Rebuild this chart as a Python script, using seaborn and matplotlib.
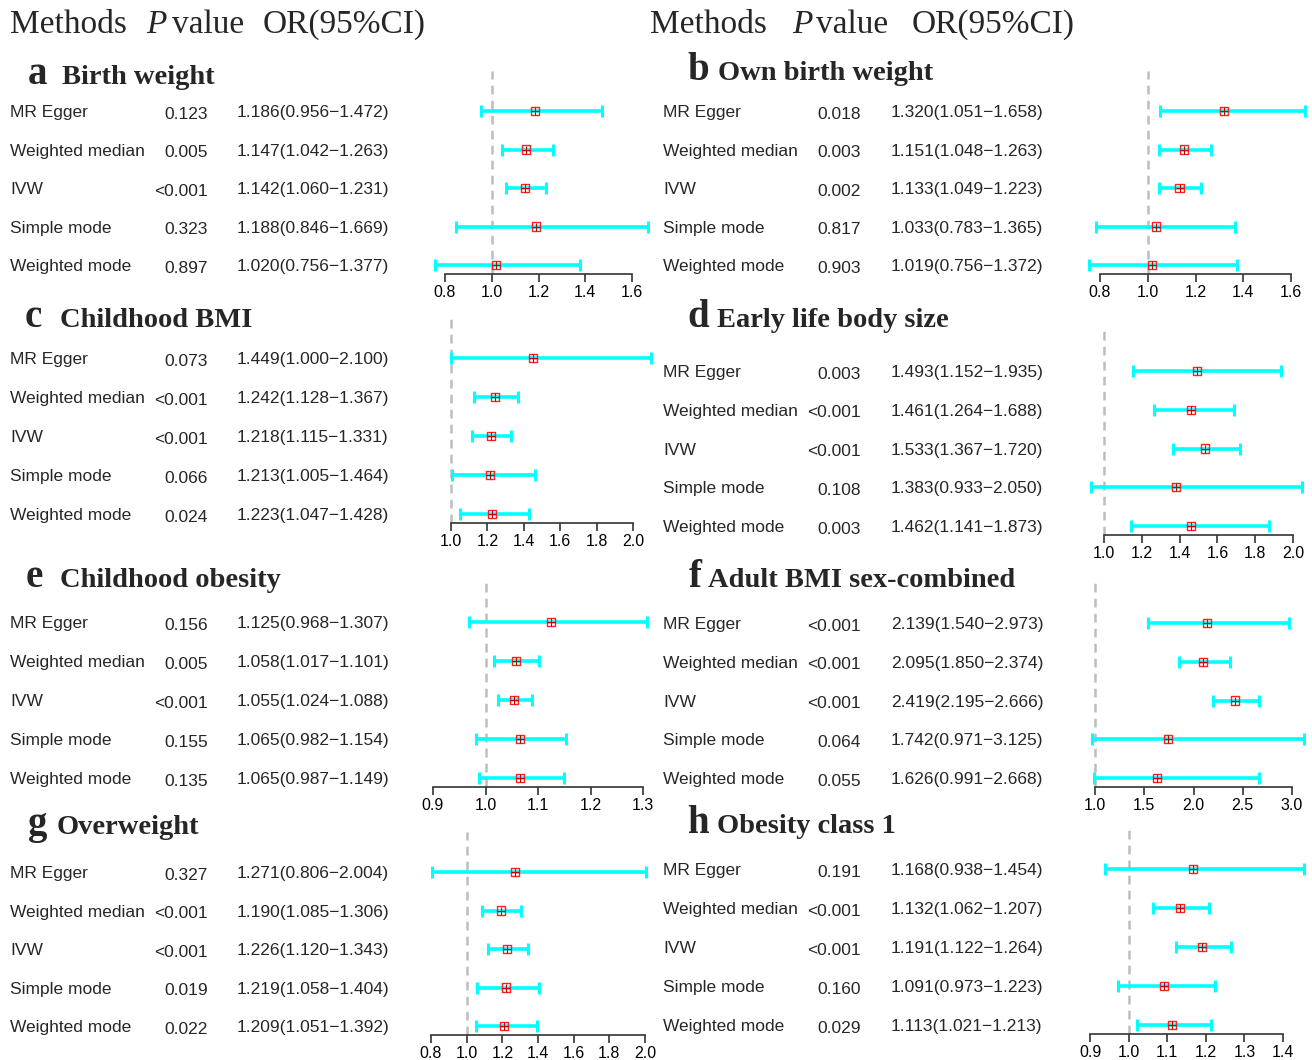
import matplotlib
matplotlib.use("Agg")
import matplotlib.pyplot as plt
import matplotlib.transforms as mtransforms
from matplotlib.ticker import FormatStrFormatter
import numpy as np
import pandas as pd
import seaborn as sns

# ---- data ----
methods = ["MR Egger", "Weighted median", "IVW", "Simple mode", "Weighted mode"]

panel_letters = ["a", "b", "c", "d", "e", "f", "g", "h"]
panel_titles = ["Birth weight", "Own birth weight", "Childhood BMI",
                "Early life body size", "Childhood obesity",
                "Adult BMI sex-combined", "Overweight", "Obesity class 1"]

p_values = [
    ["0.123", "0.005", "<0.001", "0.323", "0.897"],
    ["0.018", "0.003", "0.002", "0.817", "0.903"],
    ["0.073", "<0.001", "<0.001", "0.066", "0.024"],
    ["0.003", "<0.001", "<0.001", "0.108", "0.003"],
    ["0.156", "0.005", "<0.001", "0.155", "0.135"],
    ["<0.001", "<0.001", "<0.001", "0.064", "0.055"],
    ["0.327", "<0.001", "<0.001", "0.019", "0.022"],
    ["0.191", "<0.001", "<0.001", "0.160", "0.029"],
]
or_values = [
    [1.186, 1.147, 1.142, 1.188, 1.020],
    [1.320, 1.151, 1.133, 1.033, 1.019],
    [1.449, 1.242, 1.218, 1.213, 1.223],
    [1.493, 1.461, 1.533, 1.383, 1.462],
    [1.125, 1.058, 1.055, 1.065, 1.065],
    [2.139, 2.095, 2.419, 1.742, 1.626],
    [1.271, 1.190, 1.226, 1.219, 1.209],
    [1.168, 1.132, 1.191, 1.091, 1.113],
]
ci_low = [
    [0.956, 1.042, 1.060, 0.846, 0.756],
    [1.051, 1.048, 1.049, 0.783, 0.756],
    [1.000, 1.128, 1.115, 1.005, 1.047],
    [1.152, 1.264, 1.367, 0.933, 1.141],
    [0.968, 1.017, 1.024, 0.982, 0.987],
    [1.540, 1.850, 2.195, 0.971, 0.991],
    [0.806, 1.085, 1.120, 1.058, 1.051],
    [0.938, 1.062, 1.122, 0.973, 1.021],
]
ci_high = [
    [1.472, 1.263, 1.231, 1.669, 1.377],
    [1.658, 1.263, 1.223, 1.365, 1.372],
    [2.100, 1.367, 1.331, 1.464, 1.428],
    [1.935, 1.688, 1.720, 2.050, 1.873],
    [1.307, 1.101, 1.088, 1.154, 1.149],
    [2.973, 2.374, 2.666, 3.125, 2.668],
    [2.004, 1.306, 1.343, 1.404, 1.392],
    [1.454, 1.207, 1.264, 1.223, 1.213],
]
x_ticks = [
    [0.8, 1.0, 1.2, 1.4, 1.6],
    [0.8, 1.0, 1.2, 1.4, 1.6],
    [1.0, 1.2, 1.4, 1.6, 1.8, 2.0],
    [1.0, 1.2, 1.4, 1.6, 1.8, 2.0],
    [0.9, 1.0, 1.1, 1.2, 1.3],
    [1.0, 1.5, 2.0, 2.5, 3.0],
    [0.8, 1.0, 1.2, 1.4, 1.6, 1.8, 2.0],
    [0.9, 1.0, 1.1, 1.2, 1.3, 1.4],
]

# ---- layout (pixels) ----
W, H = 1312, 1060
axis_px = [(445, 632), (1100, 1291), (451, 633), (1104, 1293),
           (433, 643), (1095, 1292), (431, 645), (1090, 1283)]
row_px = [(111, 265), (111, 265), (358, 514), (371, 526),
          (622, 778), (623, 778), (872, 1026), (869, 1025)]
title_px = [(28, 62, 84), (687, 718, 80), (25, 60, 327), (687, 717, 327),
            (26, 60, 587), (689, 708, 587), (28, 57, 834), (687, 717, 833)]
col_x = [(10, 208, 237), (663, 861, 891)]  # method left, p right, OR left

sns.set_style("ticks")
plt.rcParams["font.family"] = ["Liberation Sans", "DejaVu Sans"]
serif = ["Liberation Serif", "DejaVu Serif"]

fig = plt.figure(figsize=(W / 100, H / 100), dpi=100)


def fx(px):
    return px / W


def fy(py):
    return 1 - py / H


# header
for off, p_x, v_x, or_x in [(10, 146, 172, 263), (650, 792, 816, 912)]:
    fig.text(fx(off), fy(25), "Methods", family=serif, fontsize=24, va="center")
    fig.text(fx(p_x), fy(25), "P", family=serif, fontsize=24, style="italic", va="center")
    fig.text(fx(v_x), fy(25), "value", family=serif, fontsize=24, va="center")
    fig.text(fx(or_x), fy(25), "OR(95%CI)", family=serif, fontsize=24, va="center")

for i in range(8):
    col = i % 2
    x0, x1 = axis_px[i]
    r0, r1 = row_px[i]
    step = (r1 - r0) / 4
    top, bot = r0 - 40, r1 + 9
    ax = fig.add_axes([fx(x0), fy(bot), (x1 - x0) / W, (bot - top) / H])

    df = pd.DataFrame({"method": methods, "row": np.arange(5),
                       "or": or_values[i], "lo": ci_low[i], "hi": ci_high[i],
                       "p": p_values[i]})

    ax.axvline(1.0, color="#BDBDBD", ls=(0, (3.5, 2.5)), lw=1.8, zorder=1,
               clip_on=False)
    ax.errorbar(df["or"], df["row"], xerr=[df["or"] - df["lo"], df["hi"] - df["or"]],
                fmt="none", ecolor="#00FFFF", elinewidth=2.6, capsize=4,
                capthick=2.2, clip_on=False, zorder=2)
    sns.scatterplot(data=df, x="or", y="row", marker="s", s=34, color="red",
                    facecolor="none", edgecolor="#FF2020", linewidth=1.0,
                    clip_on=False, zorder=3, ax=ax)
    ax.plot(df["or"], df["row"], ls="none", marker="+", ms=6, mew=0.8,
            color="#C00000", clip_on=False, zorder=4)

    ax.set_xlim(x_ticks[i][0], x_ticks[i][-1])
    ax.set_ylim(4 + 9 / step, -40 / step)
    ax.set_xticks(x_ticks[i])
    ax.xaxis.set_major_formatter(FormatStrFormatter("%.1f"))
    ax.set_yticks([])
    ax.set_xlabel("")
    ax.set_ylabel("")
    sns.despine(ax=ax, left=True)
    ax.spines["bottom"].set_color("#333333")
    ax.spines["bottom"].set_linewidth(1.2)
    ax.tick_params(axis="x", length=6, width=1.2, color="#333333",
                   labelsize=11.5, pad=2, labelcolor="black")
    ax.patch.set_alpha(0)

    # table text
    tr = mtransforms.blended_transform_factory(fig.transFigure, ax.transData)
    mx, px_, ox = col_x[col]
    for r in range(5):
        ax.text(fx(mx), r + 0.04, df["method"][r], transform=tr, fontsize=12.5,
                va="center", ha="left", clip_on=False)
        ax.text(fx(px_), r + 0.08, df["p"][r], transform=tr, fontsize=12.5,
                va="center", ha="right", clip_on=False)
        label = f"{df['or'][r]:.3f}({df['lo'][r]:.3f}\u2212{df['hi'][r]:.3f})"
        ax.text(fx(ox), r + 0.04, label, transform=tr, fontsize=12.5,
                va="center", ha="left", clip_on=False)

    # panel title
    lx, tx, by = title_px[i]
    fig.text(fx(lx), fy(by), panel_letters[i], family=serif, fontsize=28,
             fontweight="bold", va="baseline")
    fig.text(fx(tx), fy(by), panel_titles[i], family=serif, fontsize=20.5,
             fontweight="bold", va="baseline")

fig.savefig("out.png", dpi=100)
